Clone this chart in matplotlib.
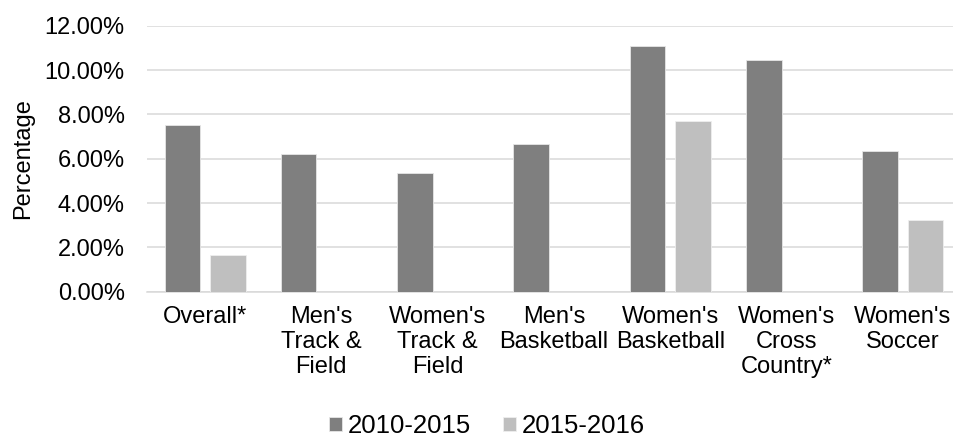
import matplotlib.pyplot as plt
import numpy as np

# category names on the x axis
categories = ["Overall*", "Men's\nTrack &\nField", "Women's\nTrack &\nField", "Men's\nBasketball",
              "Women's\nBasketball", "Women's\nCross\nCountry*", "Women's\nSoccer"]
# percentages for each period (0 where there is no bar)
values_2010_2015 = [7.51, 6.20, 5.34, 6.66, 11.11, 10.48, 6.33]
values_2015_2016 = [1.66, 0, 0, 0, 7.69, 0, 3.22]
series_names = ["2010-2015", "2015-2016"]
y_ticks = [0, 2, 4, 6, 8, 10, 12]

plt.rcParams['font.family'] = ['Liberation Sans', 'DejaVu Sans']
plt.rcParams['font.size'] = 17

fig = plt.figure(figsize=(9.54, 4.38), dpi=100)
ax = fig.add_axes([0.154, 0.334, 0.846, 0.607])

x = np.arange(len(categories))
width = 0.305
offset = 0.1955

# plotting the bars
ax.bar(x - offset, values_2010_2015, width, color='#7f7f7f', edgecolor='#e6e6e6', linewidth=0.6,
       label=series_names[0], zorder=3)
ax.bar(x + offset, values_2015_2016, width, color='#bfbfbf', edgecolor='#eeeeee', linewidth=0.6,
       label=series_names[1], zorder=3)

# axes ranges and ticks
ax.set_xlim(-0.5, 6.44)
ax.set_ylim(0, 12)
ax.set_xticks(x)
ax.set_xticklabels(categories, linespacing=1.18)
ax.set_yticks(y_ticks)
ax.set_yticklabels(["%.2f%%" % t for t in y_ticks])
ax.tick_params(axis='x', length=0, pad=10)
ax.tick_params(axis='y', length=0, pad=16)

# grid and spines
ax.grid(axis='y', color='#d9d9d9', linewidth=1.1, zorder=0)
for side in ['top', 'right', 'left']:
    ax.spines[side].set_visible(False)
ax.spines['bottom'].set_color('#d9d9d9')
ax.spines['bottom'].set_linewidth(1.1)

# naming the y axis
ax.set_ylabel('Percentage')
ax.yaxis.set_label_coords(-0.14, 0.5)

# legend under the chart
fig.legend(loc='center', bbox_to_anchor=(0.5105, 0.027), ncol=2, frameon=False,
           handlelength=0.5, handleheight=0.5, handletextpad=0.22, columnspacing=1.25,
           fontsize=18.5)

plt.savefig('out.png', dpi=100)
